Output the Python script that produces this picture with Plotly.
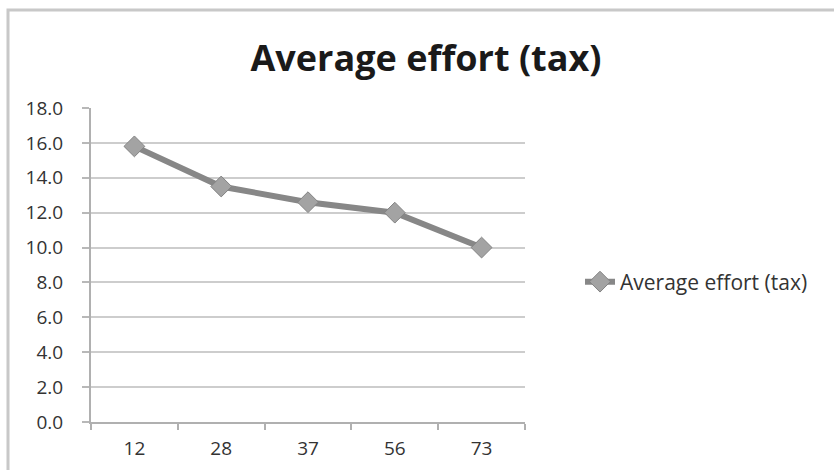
import plotly.graph_objects as go

categories = ["12", "28", "37", "56", "73"]
values = [15.8, 13.5, 12.6, 12.0, 10.0]
series_name = "Average effort (tax)"
title_text = "Average effort (tax)"
y_ticks = [0, 2, 4, 6, 8, 10, 12, 14, 16, 18]
y_tick_labels = [f"{v:.1f}" for v in y_ticks]

W, H = 834, 470
L, R, T, B = 91, 525, 108, 422
FONT = "'Open Sans', sans-serif"

def px_x(p):
    return (p - L) / (R - L)

def px_y(p):
    return (B - p) / (B - T)

fig = go.Figure()
fig.add_trace(go.Scatter(
    x=categories, y=values, name=series_name, mode="lines+markers",
    line=dict(color="#878787", width=6),
    marker=dict(symbol="diamond", size=16, color="#a3a3a3",
                line=dict(color="#838383", width=1)),
))

fig.update_layout(
    width=W, height=H,
    margin=dict(l=L, r=W - R, t=T, b=H - B, pad=0, autoexpand=False),
    paper_bgcolor="white", plot_bgcolor="white",
    font=dict(family=FONT, color="#333333", size=18),
    title=dict(text="<b>" + title_text + "</b>", x=426 / W, xanchor="center",
               y=1 - 58 / H, yanchor="middle",
               font=dict(size=36, color="#1a1a1a", family=FONT)),
    showlegend=True,
    legend=dict(x=px_x(580), y=px_y(282), xanchor="left", yanchor="middle",
                font=dict(size=21, color="#333333", family=FONT),
                bgcolor="rgba(0,0,0,0)"),
    xaxis=dict(type="category", range=[-0.5, 4.5], tickson="boundaries",
               ticks="outside", ticklen=6, tickcolor="#b0b0b0", tickwidth=2,
               showline=True, linecolor="#b0b0b0", linewidth=2,
               showgrid=False, zeroline=False, ticklabelstandoff=8,
               automargin=False,
               tickfont=dict(size=19, color="#333333", family=FONT)),
    yaxis=dict(range=[0, 18], tickvals=y_ticks, ticktext=y_tick_labels,
               ticks="outside", ticklen=7, tickcolor="#b8b8b8", tickwidth=2,
               showline=True, linecolor="#b0b0b0", linewidth=2,
               showgrid=True, gridcolor="#cdcdcd", gridwidth=2,
               zeroline=False, ticklabelstandoff=15, automargin=False,
               tickfont=dict(size=19, color="#333333", family=FONT)),
)

fig.add_shape(type="rect", xref="paper", yref="paper",
              x0=px_x(8), x1=px_x(850), y0=px_y(490), y1=px_y(10),
              line=dict(color="#c8c8c8", width=3), fillcolor="rgba(0,0,0,0)",
              layer="below")

fig.write_html("out.html")
